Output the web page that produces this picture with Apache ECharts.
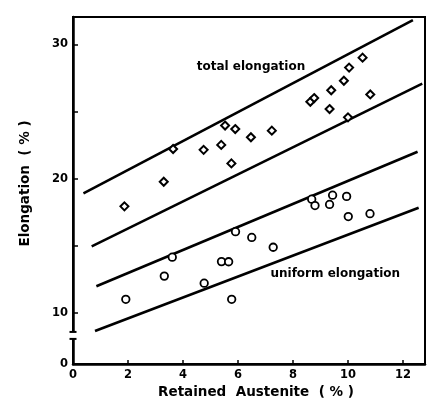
<!DOCTYPE html>
<html><head><meta charset="utf-8">
<script src="https://cdn.jsdelivr.net/npm/echarts@6/dist/echarts.min.js"></script>
<style>html,body{margin:0;padding:0;background:#fff}#c{width:432px;height:407px}</style>
</head><body><div id="c"></div>
<script>
// Total elongation (diamonds)
const totalX = [1.87, 3.30, 3.64, 4.75, 5.39, 5.53, 5.90, 5.76, 6.47, 7.23, 8.63, 8.77, 9.39, 9.33, 9.85, 10.04, 10.53, 10.00, 10.81];
const totalY = [17.93, 19.76, 22.20, 22.14, 22.51, 23.95, 23.69, 21.13, 23.08, 23.57, 25.72, 26.00, 26.58, 25.18, 27.29, 28.27, 29.01, 24.56, 26.27];
// Uniform elongation (circles)
const uniformX = [1.92, 3.32, 3.61, 4.77, 5.40, 5.66, 5.77, 5.91, 6.50, 7.28, 8.68, 8.80, 9.33, 9.44, 9.95, 10.01, 10.80];
const uniformY = [11.00, 12.73, 14.14, 12.20, 13.81, 13.80, 11.00, 16.04, 15.61, 14.88, 18.46, 17.99, 18.07, 18.76, 18.67, 17.17, 17.38];
// Band lines (endpoints)
const bandTotalUpper = [[0.38, 18.90], [12.36, 31.81]];
const bandTotalLower = [[0.68, 14.95], [12.70, 27.08]];
const bandUniformUpper = [[0.85, 11.97], [12.53, 22.00]];
const bandUniformLower = [[0.80, 8.64], [12.57, 17.82]];
// Annotations
const annotations = [[4.50, 28.34, 'total elongation'], [7.18, 12.90, 'uniform elongation']];
// Axes
const xMin = 0, xMax = 12.8, xStep = 2;
const yMin = 6.18, yMax = 32.04;
const yLabels = [10, 20, 30];
const breakLow = 8.05, breakHigh = 8.57;

const FONT = '"DejaVu Sans", Verdana, sans-serif';
const zip = (a, b) => a.map((v, i) => [v, b[i]]);
const lineSeries = d => ({
  type: 'line', data: d, symbol: 'none', z: 1,
  lineStyle: {color: '#000', width: 2.6}, animation: false
});

const chart = echarts.init(document.getElementById('c'), null, {renderer: 'canvas'});
chart.setOption({
  animation: false,
  backgroundColor: '#fff',
  grid: {left: 73, right: 7, top: 17, bottom: 43, show: true, borderColor: '#000', borderWidth: 2},
  xAxis: {
    type: 'value', min: xMin, max: xMax, interval: xStep,
    name: 'Retained  Austenite  ( % )', nameLocation: 'middle', nameGap: 21,
    nameTextStyle: {fontFamily: FONT, fontWeight: 'bold', fontSize: 13.5, color: '#000', padding: [0, 0, 0, 14]},
    axisLine: {lineStyle: {color: '#000', width: 2.5}},
    axisTick: {inside: true, length: 4, lineStyle: {color: '#000', width: 1.5}},
    axisLabel: {
      margin: 5, fontFamily: FONT, fontWeight: 'bold', fontSize: 11.5, color: '#000',
      formatter: v => (v <= 12 && Math.abs(v % 2) < 1e-9) ? String(v) : ''
    },
    splitLine: {show: false}
  },
  yAxis: {
    type: 'value', min: yMin, max: yMax, splitNumber: 5,
    name: 'Elongation  ( % )', nameLocation: 'middle', nameGap: 41,
    nameTextStyle: {fontFamily: FONT, fontWeight: 'bold', fontSize: 13.5, color: '#000', padding: [0, 0, 0, 14]},
    axisLine: {lineStyle: {color: '#000', width: 2.5}},
    axisTick: {inside: true, length: 5, lineStyle: {color: '#000', width: 1.5}},
    axisLabel: {
      margin: 5, fontFamily: FONT, fontWeight: 'bold', fontSize: 11.5, color: '#000',
      formatter: v => Math.abs(v - yMin) < 1e-6 ? '0' : (yLabels.indexOf(Math.round(v * 1000) / 1000) >= 0 ? String(v) : '')
    },
    splitLine: {show: false}
  },
  series: [
    lineSeries(bandTotalUpper), lineSeries(bandTotalLower),
    lineSeries(bandUniformUpper), lineSeries(bandUniformLower),
    {
      type: 'scatter', data: zip(totalX, totalY), symbol: 'diamond', symbolSize: 8, z: 3,
      itemStyle: {color: '#fff', borderColor: '#000', borderWidth: 2, opacity: 1}
    },
    {
      type: 'scatter', data: zip(uniformX, uniformY), symbol: 'circle', symbolSize: 7.5, z: 3,
      itemStyle: {color: '#fff', borderColor: '#000', borderWidth: 1.8, opacity: 1}
    },
    {
      type: 'scatter', data: annotations, symbolSize: 0, z: 4, silent: true,
      itemStyle: {opacity: 1},
      label: {
        show: true, position: 'right', distance: 0, formatter: p => p.data[2],
        fontFamily: FONT, fontWeight: 'bold', fontSize: 12, color: '#000'
      }
    }
  ]
});

const p1 = chart.convertToPixel({gridIndex: 0}, [xMin, breakHigh]);
const p2 = chart.convertToPixel({gridIndex: 0}, [xMin, breakLow]);
chart.setOption({
  graphic: [
    {type: 'rect', z: 100, shape: {x: p1[0] - 4, y: p1[1], width: 8, height: p2[1] - p1[1]}, style: {fill: '#fff'}},
    {type: 'line', z: 101, shape: {x1: p1[0] - 3.5, y1: p1[1], x2: p1[0] + 3.5, y2: p1[1]}, style: {stroke: '#000', lineWidth: 2}},
    {type: 'line', z: 101, shape: {x1: p2[0] - 3.5, y1: p2[1], x2: p2[0] + 3.5, y2: p2[1]}, style: {stroke: '#000', lineWidth: 2}}
  ]
});
</script></body></html>
